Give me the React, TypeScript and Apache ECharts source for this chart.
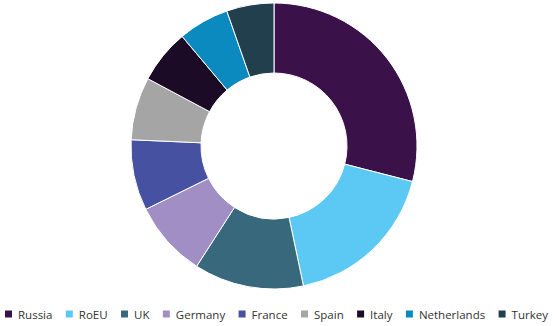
import React, { useEffect, useRef } from "react";
import * as echarts from "echarts";

const categories = ["Russia", "RoEU", "UK", "Germany", "France", "Spain", "Italy", "Netherlands", "Turkey"];
const shares = [29.0, 17.7, 12.4, 8.6, 8.0, 7.1, 6.1, 5.75, 5.35];
const colors = ["#3a1148", "#5bc9f3", "#37687c", "#a08ec4", "#4651a1", "#a5a5a5", "#1c0b26", "#0a8abf", "#213f4c"];

export default function App() {
  const ref = useRef<HTMLDivElement>(null);
  useEffect(() => {
    document.body.style.margin = "0";
    const chart = echarts.init(ref.current!, undefined, { renderer: "svg" });
    chart.setOption({
      animation: false,
      color: colors,
      legend: {
        data: categories,
        left: -2,
        top: 303,
        width: 580,
        padding: [5, 0, 5, 5],
        itemWidth: 9,
        itemHeight: 9,
        itemGap: 11.4,
        icon: "rect",
        textStyle: { fontFamily: "Open Sans", fontSize: 11.5, color: "#333333" },
      },
      series: [
        {
          type: "pie",
          center: [274, 146],
          radius: [73, 143],
          startAngle: 90,
          label: { show: false },
          labelLine: { show: false },
          itemStyle: { borderColor: "#ffffff", borderWidth: 1 },
          emphasis: { disabled: true },
          data: categories.map((name, i) => ({ name, value: shares[i] })),
        },
      ],
    });
    return () => chart.dispose();
  }, []);
  return <div ref={ref} style={{ width: 554, height: 326 }} />;
}
